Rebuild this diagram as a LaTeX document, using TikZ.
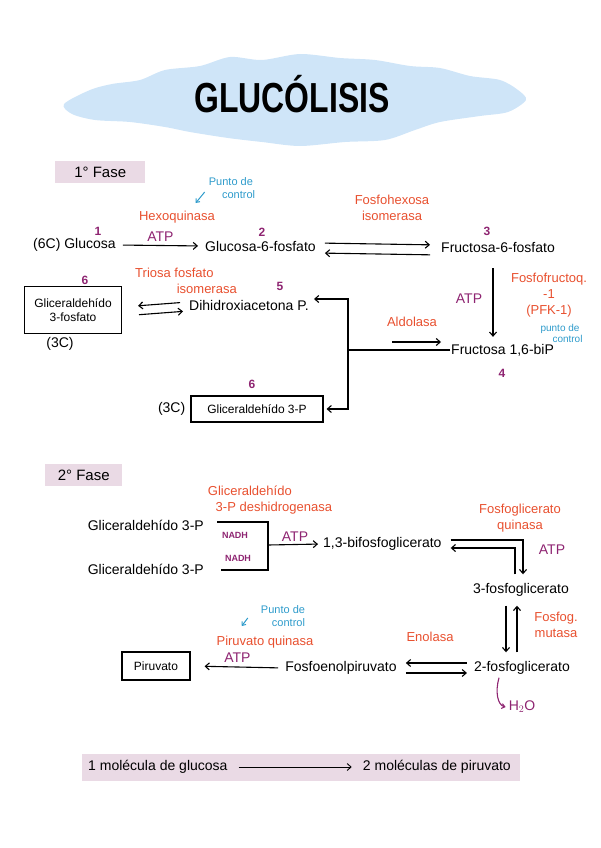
\documentclass[tikz,border=0pt]{standalone}
\usepackage{fontspec}
\setmainfont{Liberation Sans}
\usepackage{tikz}
\usetikzlibrary{arrows.meta, positioning}

\definecolor{enzred}{HTML}{E8502F}
\definecolor{numpurple}{HTML}{8E2471}
\definecolor{ctrlblue}{HTML}{2E9BCB}
\definecolor{fasepink}{HTML}{EADAE5}
\definecolor{cloudblue}{HTML}{CFE5F8}

\begin{document}
\begin{tikzpicture}[x=1pt, y=-1pt,
  mol/.style={font=\fontsize{14}{15}\selectfont, inner sep=1pt},
  molbox/.style={draw, line width=1.1pt, font=\fontsize{12}{14}\selectfont, align=center, inner sep=3pt},
  enz/.style={text=enzred, font=\fontsize{13}{16}\selectfont, align=center, inner sep=1pt},
  ctrl/.style={text=ctrlblue, font=\fontsize{11}{13}\selectfont, align=center, inner sep=1pt},
  num/.style={text=numpurple, font=\fontsize{12}{13}\selectfont\bfseries, inner sep=1pt},
  cof/.style={text=numpurple, font=\fontsize{14}{15}\selectfont, inner sep=1pt},
  fase/.style={fill=fasepink, font=\fontsize{15}{16}\selectfont, anchor=west, minimum height=22pt, inner xsep=4pt},
  rxn/.style={->, >={Straight Barb[length=4pt,width=7pt]}, line width=1.1pt},
  ctrlarr/.style={->, >={Straight Barb[length=3pt,width=5pt]}, draw=ctrlblue, line width=1pt},
  line/.style={line width=1.1pt}
]
\useasboundingbox (0,0) rectangle (600,848);

% Title
\fill[cloudblue] plot[smooth cycle] coordinates {(64,104) (90,90) (112,84) (140,80) (165,70) (200,66) (230,57) (262,60) (300,54) (340,58) (375,60) (410,66) (440,68) (470,76) (500,80) (518,90) (526,100) (508,112) (480,116) (440,122) (415,130) (385,140) (345,142) (300,146) (262,142) (228,138) (190,132) (165,127) (130,122) (95,120) (72,114)};
\node[font=\fontsize{42}{42}\selectfont\bfseries] (title) at (292,94) {\scalebox{0.76}[1]{GLUCÓLISIS}};

% 1st phase
\node[fase, minimum width=90pt] (fase1) at (55,172) {1° Fase};

\node[mol, anchor=west] (glc) at (32,245) {(6C) Glucosa};
\node[num] (n1) at (98,231) {1};
\node[mol, anchor=west] (g6p) at (204,246) {Glucosa-6-fosfato};
\node[num] (n2) at (262,232) {2};
\node[mol, anchor=west] (f6p) at (440,248) {Fructosa-6-fosfato};
\node[num] (n3) at (487,231) {3};
\node[mol, anchor=west] (f16) at (450,350) {Fructosa 1,6-biP};
\node[num] (n4) at (502,373) {4};
\node[mol, anchor=west] (dhap) at (188,305) {Dihidroxiacetona P.};
\node[num] (n5) at (280,286) {5};
\node[molbox, minimum width=97pt, minimum height=47pt] (gap1) at (73,310) {Gliceraldehído\\3-fosfato};
\node[num] (n6a) at (85,280) {6};
\node[mol] (c3a) at (60,344) {(3C)};
\node[molbox, minimum width=132pt, minimum height=26pt] (gap2) at (257,409) {Gliceraldehído 3-P};
\node[num] (n6b) at (252,384) {6};
\node[mol, left=4pt of gap2] (c3b) {(3C)};

% Enzymes
\node[enz] (hk) at (177,217) {Hexoquinasa};
\node[ctrl, align=left] (pc1) at (232,188) {Punto de\\\hspace*{1.2em}control};
\draw[ctrlarr] ([xshift=-3pt, yshift=-4pt]pc1.west) -- ++(-9,11);
\node[enz] (pgi) at (392,208) {Fosfohexosa\\isomerasa};
\node[enz] (pfk) at (549,295) {Fosfofructoq.\\-1\\(PFK-1)};
\node[ctrl, font=\fontsize{10}{11}\selectfont] (pc3) at (560,333) {punto de\\\hspace*{1.5em}control};
\node[cof] (atp2) at (469,299) {ATP};
\node[enz] (ald) at (412,322) {Aldolasa};
\node[enz, align=left] (tpi) at (186,281) {Triosa fosfato\\\hspace*{3.2em}isomerasa};

% Reactions
\draw[rxn, shorten <=6pt, shorten >=6pt] (glc.east) -- node[above=2pt, cof] {ATP} (g6p.west);
\draw[rxn, shorten <=8pt, shorten >=10pt] ([yshift=3pt]g6p.east) -- ([yshift=3pt]f6p.west);
\draw[rxn, shorten <=10pt, shorten >=8pt] ([yshift=-7pt]f6p.west) -- ([yshift=-7pt]g6p.east);
\draw[rxn, shorten <=14pt, shorten >=6pt] ([xshift=-5pt]f6p.south) -- ([xshift=-5pt]f6p.south |- f16.north);
\coordinate (split) at (348,350);
\draw[line] (f16.west) -- (split);
\draw[rxn, shorten >=4pt] (split) |- ([yshift=6pt]dhap.east);
\draw[rxn, shorten >=3pt] (split) |- (gap2.east);
\draw[rxn] ([xshift=-58pt, yshift=8pt]f16.west) -- ([xshift=-9pt, yshift=8pt]f16.west);
\draw[rxn, shorten <=8pt, shorten >=16pt] ([yshift=3pt]dhap.west) -- ([yshift=3pt]gap1.east);
\draw[rxn, shorten <=17pt, shorten >=5pt] ([yshift=-6pt]gap1.east) -- ([yshift=-6pt]dhap.west);

% 2nd phase
\node[fase, minimum width=77pt] (fase2) at (45,475) {2° Fase};

\node[mol, anchor=east] (gapa) at (205,525) {Gliceraldehído 3-P};
\node[mol, anchor=east] (gapb) at (205,569) {Gliceraldehído 3-P};
\node[enz, align=left] (gapdh) at (270,500) {Gliceraldehído\\\hspace*{0.6em}3-P deshidrogenasa};
\coordinate (join) at (268,545);
\draw[line] ([xshift=12pt, yshift=3pt]gapa.east) -| (join) |- ([xshift=16pt, yshift=-1pt]gapb.east);
\node[cof, font=\fontsize{9}{10}\selectfont\bfseries] (nadh1) at (235,535) {NADH};
\node[cof, font=\fontsize{9}{10}\selectfont\bfseries] (nadh2) at (238,558) {NADH};
\node[mol, anchor=west] (bpg) at (322,544) {1,3-bifosfoglicerato};
\draw[rxn, shorten >=4pt] (join) -- node[above=1pt, cof] {ATP} (bpg.west);

\node[mol] (pg3) at (521,590) {3-fosfoglicerato};
\node[enz] (pgk) at (520,518) {Fosfoglicerato\\quinasa};
\node[cof] (atp4) at (552,550) {ATP};
\draw[rxn] ([xshift=8pt, yshift=4pt]bpg.east) -| ([xshift=2pt, yshift=8pt]pg3.north);
\draw[rxn] ([xshift=-6pt, yshift=8pt]pg3.north) |- ([xshift=8pt, yshift=-4pt]bpg.east);

\node[mol] (pg2) at (522,668) {2-fosfoglicerato};
\node[enz] (pgm) at (556,625) {Fosfog.\\mutasa};
\draw[rxn, shorten <=8pt, shorten >=8pt] ([xshift=-15pt]pg3.south) -- ([xshift=-15pt]pg3.south |- pg2.north);
\draw[rxn, shorten <=8pt, shorten >=8pt] ([xshift=-5pt]pg2.north) -- ([xshift=-5pt]pg2.north |- pg3.south);
\node[cof] (h2o) at (522,707) {H$_2$O};
\draw[rxn, draw=numpurple, >={Straight Barb[length=3pt,width=5pt]}] ([xshift=-23pt, yshift=-2pt]pg2.south) .. controls +(-4,14) and +(-8,-2) .. ([xshift=-2pt]h2o.west);

\node[mol] (pep) at (341,668) {Fosfoenolpiruvato};
\node[enz] (eno) at (430,637) {Enolasa};
\draw[rxn, shorten <=6pt, shorten >=8pt] ([yshift=5pt]pg2.west) -- ([yshift=5pt]pep.east);
\draw[rxn, shorten <=8pt, shorten >=6pt] ([yshift=-5pt]pep.east) -- ([yshift=-5pt]pg2.west);

\node[molbox, minimum width=68pt, minimum height=28pt] (pyr) at (156,666) {Piruvato};
\node[enz] (pk) at (265,642) {Piruvato quinasa};
\node[ctrl, align=left] (pc2) at (283,616) {Punto de\\\hspace*{1em}control};
\draw[ctrlarr] ([xshift=-12pt, yshift=-2pt]pc2.west) -- ++(-6,8);
\draw[rxn, shorten <=6pt, shorten >=14pt] (pep.west) -- node[above=3pt, cof] {ATP} (pyr.east);

% Summary
\fill[fasepink] (82,754) rectangle (520,781);
\node[mol, anchor=west] (sum1) at (87,767) {1 molécula de glucosa};
\node[mol, anchor=east] (sum2) at (512,767) {2 moléculas de piruvato};
\draw[rxn, line width=0.9pt, shorten <=10pt, shorten >=10pt] (sum1.east) -- (sum2.west);
\end{tikzpicture}
\end{document}
